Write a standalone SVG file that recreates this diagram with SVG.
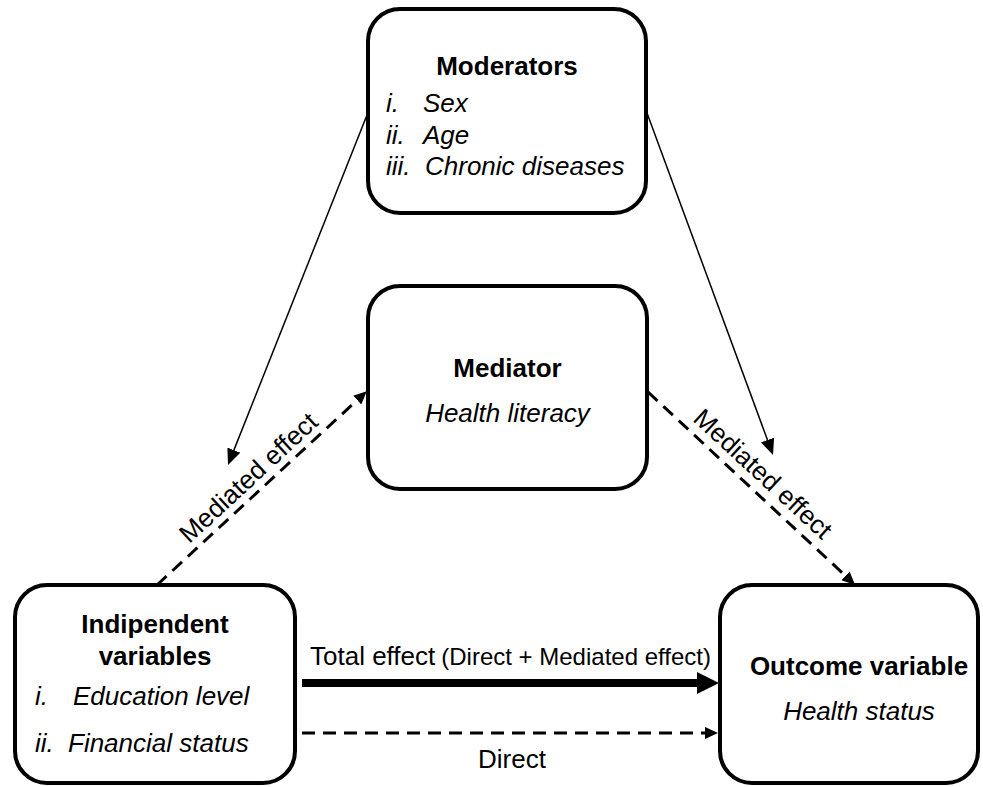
<svg xmlns="http://www.w3.org/2000/svg" width="983" height="787" viewBox="0 0 983 787">
<style>
.box{fill:#fff;stroke:#000;stroke-width:4}
.t{font-family:"Liberation Sans",Arial,sans-serif;fill:#000}
.b{font-weight:bold;font-size:26px}
.i{font-style:italic;font-size:26px}
.r{font-size:26px}
.thin{stroke:#000;stroke-width:1.5;fill:none}
.dash{stroke:#000;stroke-width:3;stroke-dasharray:13 8;fill:none}
.thick{stroke:#000;stroke-width:8;fill:none}
</style>
<defs>
<marker id="aThin" markerUnits="userSpaceOnUse" markerWidth="16" markerHeight="14" refX="0" refY="7" orient="auto"><path d="M0,0 L16,7 L0,14 z" fill="#000"/></marker>
<marker id="aDash" markerUnits="userSpaceOnUse" markerWidth="13" markerHeight="12" refX="0" refY="6" orient="auto"><path d="M0,0 L13,6 L0,12 z" fill="#000"/></marker>
<marker id="aThick" markerUnits="userSpaceOnUse" markerWidth="22" markerHeight="22" refX="0" refY="11" orient="auto"><path d="M0,0 L22,11 L0,22 z" fill="#000"/></marker>
</defs>
<g id="connectors">
<line class="thin" x1="367" y1="115" x2="233.9" y2="450.1" marker-end="url(#aThin)"/>
<line class="thin" x1="647" y1="113" x2="767.5" y2="440" marker-end="url(#aThin)"/>
<line class="dash" x1="157" y1="585" x2="357.2" y2="400.1" marker-end="url(#aDash)"/>
<line class="dash" x1="648" y1="392" x2="845.5" y2="575.8" marker-end="url(#aDash)"/>
<line class="thick" x1="302" y1="683" x2="697" y2="683" marker-end="url(#aThick)"/>
<line class="dash" x1="302" y1="733" x2="705" y2="733" marker-end="url(#aDash)"/>
<text class="t r" x="254.5" y="484.2" text-anchor="middle" transform="rotate(-42.7 254.5 484.2)">Mediated effect</text>
<text class="t r" x="757" y="480.3" text-anchor="middle" transform="rotate(42.7 757 480.3)">Mediated effect</text>
<text class="t" x="310" y="665"><tspan font-size="26">Total effect</tspan><tspan font-size="24" dx="6">(Direct + Mediated effect)</tspan></text>
<text class="t r" x="512" y="768" text-anchor="middle">Direct</text>
</g>
<g id="moderators">
<rect class="box" x="368" y="9" width="278" height="204" rx="32" ry="32"/>
<text class="t b" x="507" y="75" text-anchor="middle">Moderators</text>
<text class="t i" x="386" y="112">i.</text><text class="t i" x="423" y="112">Sex</text>
<text class="t i" x="386" y="144">ii.</text><text class="t i" x="423" y="144">Age</text>
<text class="t i" x="386" y="175">iii.</text><text class="t i" x="425" y="175">Chronic diseases</text>
</g>
<g id="mediator">
<rect class="box" x="368" y="286" width="279" height="203" rx="32" ry="32"/>
<text class="t b" x="507.5" y="377" text-anchor="middle">Mediator</text>
<text class="t i" x="507.5" y="422" text-anchor="middle">Health literacy</text>
</g>
<g id="independent">
<rect class="box" x="15" y="585" width="280" height="198" rx="32" ry="32"/>
<text class="t b" x="155" y="633" text-anchor="middle">Indipendent</text>
<text class="t b" x="155" y="665" text-anchor="middle">variables</text>
<text class="t i" x="35" y="705">i.</text><text class="t i" x="73" y="705">Education level</text>
<text class="t i" x="35" y="752">ii.</text><text class="t i" x="68" y="752">Financial status</text>
</g>
<g id="outcome">
<rect class="box" x="720" y="585" width="258" height="198" rx="32" ry="32"/>
<text class="t b" x="859" y="675" text-anchor="middle">Outcome variable</text>
<text class="t i" x="859" y="720" text-anchor="middle">Health status</text>
</g>
</svg>
